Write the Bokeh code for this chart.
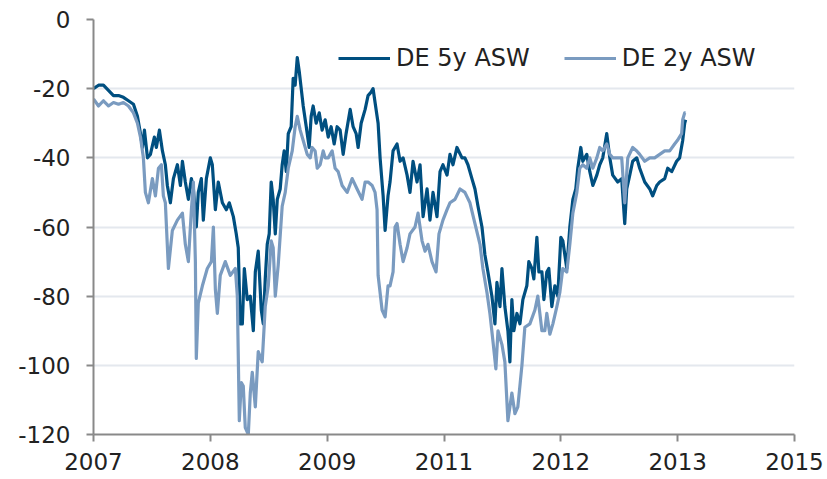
from bokeh.plotting import figure
from bokeh.models import Range1d, FixedTicker, Legend, LegendItem
from bokeh.embed import file_html
from bokeh.resources import INLINE

# x positions in axis units (0 = first tick "2007", 1 = second tick, ...)
x_labels = ["2007", "2008", "2009", "2011", "2012", "2013", "2015"]
y_ticks = [-120, -100, -80, -60, -40, -20, 0]
y_labels = ["-120", "-100", "-80", "-60", "-40", "-20", "0"]

t5 = [0.000, 0.043, 0.085, 0.128, 0.171, 0.214, 0.256, 0.299, 0.342, 0.376,
      0.402, 0.419, 0.436, 0.462, 0.487, 0.521, 0.538, 0.564, 0.590, 0.615,
      0.632, 0.658, 0.684, 0.718, 0.744, 0.761, 0.786, 0.812, 0.838, 0.855,
      0.880, 0.897, 0.923, 0.940, 0.966, 1.000, 1.017, 1.043, 1.068, 1.103,
      1.137, 1.162, 1.197, 1.222, 1.239, 1.256, 1.274, 1.291, 1.316, 1.342,
      1.368, 1.385, 1.410, 1.436, 1.453, 1.470, 1.487, 1.504, 1.521, 1.538,
      1.556, 1.573, 1.598, 1.615, 1.632, 1.650, 1.667, 1.692, 1.709, 1.726,
      1.744, 1.761, 1.778, 1.795, 1.821, 1.846, 1.863, 1.880, 1.906, 1.932,
      1.957, 1.983, 2.009, 2.034, 2.060, 2.085, 2.111, 2.137, 2.162, 2.197,
      2.222, 2.248, 2.265, 2.291, 2.325, 2.350, 2.376, 2.393, 2.410, 2.436,
      2.453, 2.479, 2.496, 2.521, 2.538, 2.564, 2.598, 2.624, 2.650, 2.684,
      2.709, 2.735, 2.769, 2.795, 2.821, 2.855, 2.880, 2.906, 2.940, 2.966,
      2.991, 3.026, 3.051, 3.077, 3.111, 3.154, 3.179, 3.205, 3.239, 3.265,
      3.291, 3.325, 3.350, 3.376, 3.410, 3.436, 3.453, 3.479, 3.496, 3.521,
      3.547, 3.564, 3.581, 3.598, 3.624, 3.650, 3.675, 3.709, 3.726, 3.752,
      3.769, 3.795, 3.812, 3.838, 3.855, 3.880, 3.897, 3.923, 3.949, 3.974,
      4.000, 4.017, 4.051, 4.077, 4.103, 4.128, 4.145, 4.171, 4.188, 4.222,
      4.248, 4.274, 4.308, 4.333, 4.359, 4.393, 4.419, 4.444, 4.487, 4.521,
      4.547, 4.564, 4.590, 4.615, 4.650, 4.675, 4.718, 4.761, 4.786, 4.821,
      4.846, 4.889, 4.915, 4.949, 4.991, 5.017, 5.043, 5.060, 5.068]
de5y = [-20, -19, -19, -20.5, -22, -22, -22.5, -23.5, -24.5, -28,
        -33, -37, -32, -40, -39, -34, -37, -32, -38, -42,
        -48, -53, -46, -42, -48, -41, -47, -52, -46, -49,
        -60, -50, -46, -58, -46, -40, -42, -55, -47, -53,
        -55, -53, -57, -62, -66, -88, -88, -72, -81, -80,
        -90, -73, -67, -84, -88, -75, -65, -62, -47, -52,
        -62, -52, -49, -42, -38, -44, -33, -31, -17, -19,
        -11, -15, -20, -25, -31, -37, -28, -25, -30, -27,
        -32, -29, -34, -31, -36, -31, -32, -39, -33, -26,
        -31, -33, -37, -30, -26, -22, -21, -20, -24, -30,
        -40, -51, -61, -51, -47, -38, -36, -41, -40, -45,
        -50, -41, -47, -42, -57, -49, -58, -50, -57, -44,
        -42, -45, -39, -42, -37, -40, -40, -42, -46, -49,
        -54, -60, -68, -73, -80, -88, -76, -83, -72, -83,
        -90, -99, -81, -90, -85, -88, -81, -77, -70, -72,
        -75, -63, -73, -73, -81, -73, -72, -83, -77, -80,
        -63, -64, -72, -60, -52, -49, -43, -37, -41, -39,
        -44, -48, -45, -42, -40, -33, -40, -45, -47, -46,
        -59, -49, -45, -41, -40, -43, -47, -49, -51, -48,
        -47, -46, -43, -44, -41, -40, -35, -30, -29]

t2 = [0.000, 0.043, 0.085, 0.128, 0.171, 0.214, 0.256, 0.299, 0.342, 0.376,
      0.402, 0.427, 0.444, 0.470, 0.504, 0.530, 0.556, 0.581, 0.598, 0.615,
      0.641, 0.675, 0.718, 0.761, 0.786, 0.812, 0.838, 0.855, 0.872, 0.880,
      0.897, 0.932, 0.974, 1.009, 1.026, 1.043, 1.060, 1.085, 1.128, 1.171,
      1.214, 1.231, 1.248, 1.265, 1.282, 1.299, 1.325, 1.342, 1.359, 1.385,
      1.410, 1.444, 1.470, 1.496, 1.521, 1.538, 1.556, 1.581, 1.615, 1.641,
      1.667, 1.701, 1.726, 1.744, 1.769, 1.795, 1.829, 1.855, 1.872, 1.897,
      1.915, 1.940, 1.966, 1.983, 2.009, 2.043, 2.068, 2.094, 2.128, 2.171,
      2.214, 2.256, 2.299, 2.325, 2.350, 2.385, 2.410, 2.427, 2.436, 2.470,
      2.496, 2.521, 2.538, 2.564, 2.581, 2.598, 2.624, 2.650, 2.684, 2.709,
      2.752, 2.778, 2.812, 2.838, 2.863, 2.897, 2.932, 2.957, 2.991, 3.026,
      3.051, 3.094, 3.137, 3.179, 3.222, 3.265, 3.308, 3.333, 3.368, 3.393,
      3.419, 3.444, 3.462, 3.496, 3.521, 3.547, 3.581, 3.607, 3.632, 3.667,
      3.692, 3.735, 3.778, 3.803, 3.838, 3.863, 3.880, 3.906, 3.932, 3.966,
      3.991, 4.017, 4.051, 4.077, 4.103, 4.137, 4.162, 4.188, 4.222, 4.248,
      4.274, 4.308, 4.333, 4.359, 4.393, 4.419, 4.444, 4.487, 4.521, 4.547,
      4.573, 4.615, 4.650, 4.675, 4.718, 4.761, 4.803, 4.846, 4.889, 4.932,
      4.974, 4.997, 5.034, 5.043, 5.060, 5.068]
de2y = [-23, -25, -23.5, -25, -24, -24.5, -24, -25, -27, -30,
        -34, -40, -50, -53, -46, -51, -43, -42, -51, -53,
        -72, -61, -58, -56, -65, -70, -55, -47, -70, -98,
        -82, -77, -72, -70, -60, -78, -85, -74, -70, -74,
        -72, -80, -116, -105, -106, -118, -120, -108, -102, -112,
        -96, -99, -83, -77, -64, -66, -80, -71, -54, -50,
        -43, -38, -31, -28, -32, -35, -39, -40, -37, -38,
        -43, -42, -38, -40, -40, -38, -43, -44, -48, -50,
        -46, -49, -52, -47, -47, -48, -50, -55, -74, -84,
        -86, -77, -77, -73, -60, -59, -65, -70, -66, -62,
        -60, -56, -64, -67, -65, -70, -73, -62, -58, -55,
        -53, -52, -49, -50, -53, -59, -65, -72, -79, -85,
        -93, -101, -90, -94, -99, -116, -108, -114, -112, -100,
        -89, -88, -84, -80, -90, -90, -85, -91, -88, -83,
        -79, -72, -73, -65, -56, -50, -43, -42, -43, -40,
        -43, -40, -37, -38, -36, -39, -40, -40, -40, -53,
        -40, -37, -38, -39, -41, -40, -40, -39, -38, -38,
        -36, -35, -33, -29, -27, -27]

FONT = "DejaVu Sans"
TXT = "#222222"
AX = "#898989"

p = figure(width=824, height=476, output_backend="svg", toolbar_location=None,
           x_range=Range1d(0, 6), y_range=Range1d(-120, 0),
           min_border_left=93, min_border_right=30, min_border_top=19,
           min_border_bottom=42)
p.outline_line_color = None
p.background_fill_color = "white"

r5 = p.line(t5, de5y, line_color="#004f80", line_width=3.2, line_join="round")
r2 = p.line(t2, de2y, line_color="#7a9bc0", line_width=3.2, line_join="round")

p.xgrid.visible = False
p.ygrid.ticker = FixedTicker(ticks=y_ticks)
p.ygrid.grid_line_color = "#e4e8ee"
p.ygrid.grid_line_width = 2

for ax in (p.xaxis[0], p.yaxis[0]):
    ax.axis_line_color = AX
    ax.axis_line_width = 2
    ax.major_tick_line_color = AX
    ax.major_tick_line_width = 2
    ax.major_tick_in = 0
    ax.major_tick_out = 7
    ax.minor_tick_line_color = None
    ax.major_label_text_font = FONT
    ax.major_label_text_font_size = "23px"
    ax.major_label_text_color = TXT

p.xaxis[0].ticker = FixedTicker(ticks=list(range(len(x_labels))))
p.xaxis[0].major_label_overrides = {i: s for i, s in enumerate(x_labels)}
p.xaxis[0].major_label_standoff = 11
p.yaxis[0].ticker = FixedTicker(ticks=y_ticks)
p.yaxis[0].major_label_overrides = {t: s for t, s in zip(y_ticks, y_labels)}
p.yaxis[0].major_label_standoff = 16

legend = Legend(items=[LegendItem(label="DE 5y ASW", renderers=[r5]),
                       LegendItem(label="DE 2y ASW", renderers=[r2])],
                orientation="horizontal", location=(245, 362))
legend.border_line_color = None
legend.background_fill_alpha = 0
legend.label_text_font = FONT
legend.label_text_font_size = "24px"
legend.label_text_color = TXT
legend.glyph_width = 52
legend.glyph_height = 24
legend.label_height = 24
legend.label_standoff = 6
legend.spacing = 34
legend.padding = 0
legend.margin = 0
p.add_layout(legend)

open("out.html", "w").write(file_html(p, INLINE))
